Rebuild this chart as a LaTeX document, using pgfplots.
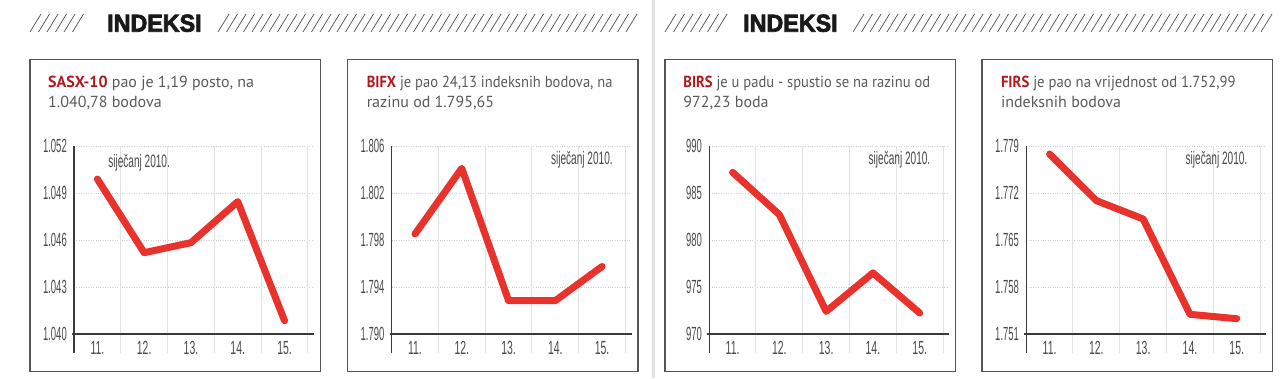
\documentclass[border=0pt]{standalone}
\usepackage{pgfplots}
\pgfplotsset{compat=1.18}
\usepackage{fontspec}
\setmainfont{PT Sans}
\newfontfamily\condfont[FakeStretch=0.5]{Liberation Sans}
\newfontfamily\xcondfont[FakeStretch=0.55]{Liberation Sans}
\newfontfamily\notefont[FakeStretch=0.56]{Liberation Sans}
\newfontfamily\headfont[FakeStretch=0.95,FakeBold=3]{Liberation Sans Bold}
\definecolor{linered}{HTML}{E8322B}
\definecolor{titlered}{HTML}{B0181E}
\definecolor{txtgray}{HTML}{5A5A5A}
\definecolor{tickgray}{HTML}{4A4A4A}
\definecolor{axgray}{HTML}{3A3A3A}
\definecolor{hatchgray}{HTML}{505050}
\definecolor{boxgray}{HTML}{555555}
\definecolor{gridgray}{HTML}{D0D0D0}
\definecolor{vgrid}{HTML}{E2E2E2}

\pgfplotsset{
 panel/.style={
  scale only axis, width=240pt, height=188pt,
  xmin=10.5, xmax=15.63,
  axis lines=left, axis line style={draw=none},
  xtick={11,12,13,14,15}, xticklabels={11.,12.,13.,14.,15.},
  major tick length=0pt,
  ymajorgrids, major grid style={gridgray, dotted, line width=0.9pt},
  xticklabel style={font=\xcondfont\fontsize{19pt}{19pt}\selectfont, text=tickgray, anchor=center, yshift=-13.7pt, inner sep=0pt},
  yticklabel style={font=\condfont\fontsize{19pt}{19pt}\selectfont, text=tickgray, anchor=east, xshift=-7pt, inner sep=0pt},
  clip=false,
 },
 redline/.style={linered, line width=7pt, line cap=round, line join=round, mark=none},
}
\newcommand\panelframe[2]{%
 \pgfplotsinvokeforeach{11.5,12.5,13.5,14.5,15.5}{\draw[vgrid, line width=1pt] (axis cs:##1,#2) -- ([yshift=-18.5pt]axis cs:##1,#1);}
 \draw[axgray, line width=1.3pt] (axis cs:10.5,#2) -- ([yshift=-18.5pt]axis cs:10.5,#1);
 \draw[axgray, line width=1.3pt] ([xshift=-2pt]axis cs:10.5,#1) -- (axis cs:15.63,#1);
}
\newcommand\titlefont{\fontsize{16pt}{19pt}\selectfont}
\newcommand\notestyle{\notefont\fontsize{18pt}{18pt}\selectfont}

\begin{document}
\begin{tikzpicture}[x=1pt,y=1pt]
\useasboundingbox (0,0) rectangle (1280,378);
% divider
\fill[vgrid] (652,0) rectangle (654.5,378);
% headers
\foreach \x in {30,38.5,...,80} \draw[hatchgray, line width=0.7pt] (\x,346) -- (\x+11,364);
\foreach \x in {218,226.5,...,628} \draw[hatchgray, line width=0.7pt] (\x,346) -- (\x+11,364);
\foreach \x in {665,673.5,...,717} \draw[hatchgray, line width=0.7pt] (\x,346) -- (\x+11,364);
\foreach \x in {853,861.5,...,1263} \draw[hatchgray, line width=0.7pt] (\x,346) -- (\x+11,364);
\node[anchor=base west, inner sep=0, font=\headfont\fontsize{24.5pt}{25pt}\selectfont, text=black!90] at (107,346.3) {INDEKSI};
\node[anchor=base west, inner sep=0, font=\headfont\fontsize{24.5pt}{25pt}\selectfont, text=black!90] at (743,346.3) {INDEKSI};
% boxes
\foreach \X in {30,347.6,665.2,982.2} \draw[boxgray, line width=1.5pt] (\X,318.7) rectangle (\X+290.5,6.3);
% titles
\node[anchor=base west, inner sep=0, font=\titlefont, text=txtgray] at (48,290.3) {\textcolor{titlered}{\bfseries SASX-10} pao je 1,19 posto, na};
\node[anchor=base west, inner sep=0, font=\titlefont, text=txtgray] at (48,270.3) {1.040,78 bodova};
\node[anchor=base west, inner sep=0, font=\titlefont, text=txtgray] at (366.6,290.3) {\scalebox{0.91}[1]{\textcolor{titlered}{\bfseries BIFX} je pao 24,13 indeksnih bodova, na}};
\node[anchor=base west, inner sep=0, font=\titlefont, text=txtgray] at (366.6,270.3) {razinu od 1.795,65};
\node[anchor=base west, inner sep=0, font=\titlefont, text=txtgray] at (683.2,290.3) {\scalebox{0.91}[1]{\textcolor{titlered}{\bfseries BIRS} je u padu - spustio se na razinu od}};
\node[anchor=base west, inner sep=0, font=\titlefont, text=txtgray] at (683.2,270.3) {972,23 boda};
\node[anchor=base west, inner sep=0, font=\titlefont, text=txtgray] at (1000.8,290.3) {\scalebox{0.92}[1]{\textcolor{titlered}{\bfseries FIRS} je pao na vrijednost od 1.752,99}};
\node[anchor=base west, inner sep=0, font=\titlefont, text=txtgray] at (1000.8,270.3) {indeksnih bodova};

% panel 1
\begin{axis}[panel, at={(74pt,44pt)}, anchor=south west,
  ymin=1.040, ymax=1.052, ytick={1.040,1.043,1.046,1.049,1.052},
  yticklabels={1.040,1.043,1.046,1.049,1.052}]
\panelframe{1.040}{1.052}
\addplot[redline] coordinates {(11,1.04989) (12,1.04519) (13,1.04583) (14,1.04845) (15,1.04085)};
\node[font=\notestyle, text=tickgray, anchor=west, inner sep=0] at (rel axis cs:0.142,0.91) {siječanj 2010.};
\end{axis}

% panel 2
\begin{axis}[panel, at={(391.6pt,44pt)}, anchor=south west,
  ymin=1.790, ymax=1.806, ytick={1.790,1.794,1.798,1.802,1.806},
  yticklabels={1.790,1.794,1.798,1.802,1.806}]
\panelframe{1.790}{1.806}
\addplot[redline] coordinates {(11,1.79851) (12,1.80410) (13,1.79284) (14,1.79284) (15,1.79575)};
\node[font=\notestyle, text=tickgray, anchor=east, inner sep=0] at (rel axis cs:0.922,0.926) {siječanj 2010.};
\end{axis}

% panel 3
\begin{axis}[panel, at={(709.2pt,44pt)}, anchor=south west,
  ymin=970, ymax=990, ytick={970,975,980,985,990},
  yticklabels={970,975,980,985,990}]
\panelframe{970}{990}
\addplot[redline] coordinates {(11,987.2) (12,982.7) (13,972.4) (14,976.5) (15,972.23)};
\node[font=\notestyle, text=tickgray, anchor=east, inner sep=0] at (rel axis cs:0.922,0.926) {siječanj 2010.};
\end{axis}

% panel 4
\begin{axis}[panel, at={(1026.2pt,44pt)}, anchor=south west,
  ymin=1.751, ymax=1.779, ytick={1.751,1.758,1.765,1.772,1.779},
  yticklabels={1.751,1.758,1.765,1.772,1.779}]
\panelframe{1.751}{1.779}
\addplot[redline] coordinates {(11,1.77781) (12,1.77086) (13,1.76813) (14,1.75393) (15,1.75328)};
\node[font=\notestyle, text=tickgray, anchor=east, inner sep=0] at (rel axis cs:0.922,0.926) {siječanj 2010.};
\end{axis}
\end{tikzpicture}
\end{document}
